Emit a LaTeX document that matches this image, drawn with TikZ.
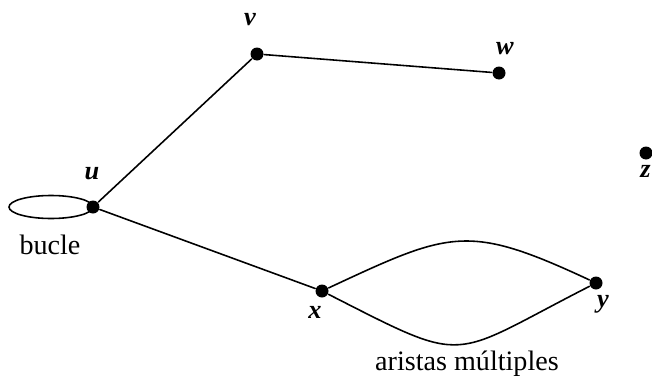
\documentclass[tikz,border=0pt]{standalone}
\usepackage{fontspec}
\setmainfont{Liberation Serif}
\usepackage{tikz}

\begin{document}
\begin{tikzpicture}[line width=0.9pt,line cap=round,
  vtx/.style={circle,fill=black,inner sep=0pt,minimum size=0.26cm},
  lbl/.style={font=\fontsize{15}{18}\selectfont\bfseries\itshape,inner sep=0pt},
  txt/.style={font=\fontsize{16}{19}\selectfont,inner sep=0pt}]
\useasboundingbox (0,0) rectangle (13.04,7.58);
% vertices
\node[vtx] (u) at (1.86,3.44) {};
\node[vtx] (v) at (5.14,6.50) {};
\node[vtx] (w) at (9.98,6.12) {};
\node[vtx] (x) at (6.44,1.76) {};
\node[vtx] (y) at (11.92,1.92) {};
\node[vtx] (z) at (12.92,4.52) {};
% names
\node[lbl] (lu) at (1.84,4.10) {u};
\node[lbl] (lv) at (5.00,7.18) {v};
\node[lbl] (lw) at (10.10,6.60) {w};
\node[lbl] (lx) at (6.30,1.34) {x};
\node[lbl] (ly) at (12.06,1.50) {y};
\node[lbl,anchor=east] (lz) at (13.03,4.16) {z};
\node[txt] (bucle) at (1.00,2.68) {bucle};
\node[txt] (multi) at (9.34,0.30) {aristas múltiples};
% edges
\draw (u) -- (v);
\draw (v) -- (w);
\draw (u) -- (x);
\draw (u.center) arc[start angle=0,end angle=360,x radius=0.84cm,y radius=0.23cm];
\draw (x) .. controls +(25:2.84) and +(155:2.84) .. (y);
\draw (x) .. controls +(-27:3.34) and +(-153:3.34) .. (y);
\end{tikzpicture}
\end{document}
